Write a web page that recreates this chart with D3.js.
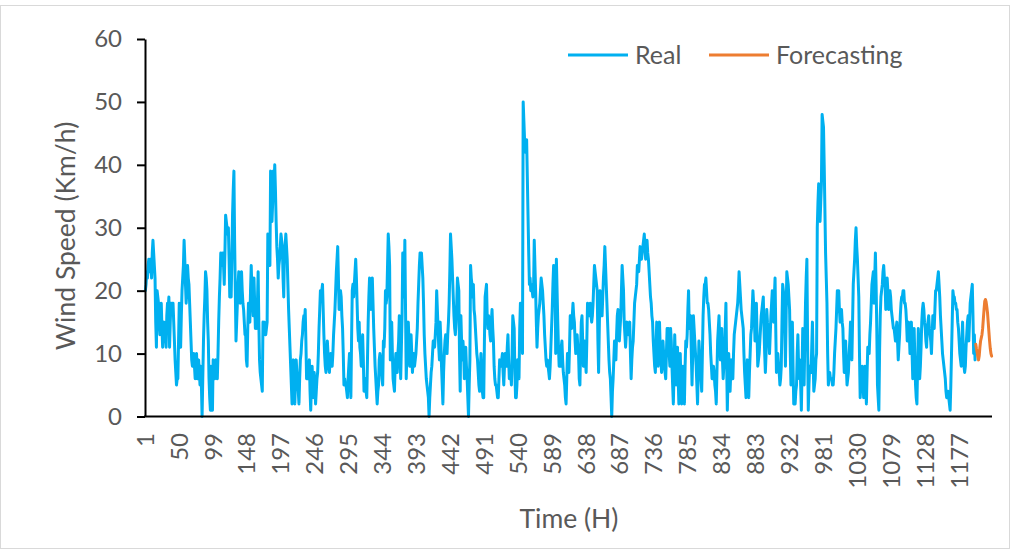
<!DOCTYPE html>
<html>
<head>
<meta charset="utf-8">
<script src="https://cdn.jsdelivr.net/npm/d3@7"></script>
<style>
  html, body { margin: 0; padding: 0; background: #ffffff; }
  svg { display: block; font-family: Lato, "Open Sans", sans-serif; }
</style>
</head>
<body>
<svg id="chart" width="1016" height="550"></svg>
<script>
// Hourly observed wind speed (km/h), hour 1 onward
const realSpeed = [
  20,21,23,22,24,25,23,25,24,22,26,28,26,24,22,15,11,20,19,18,
  15,13,16,18,14,11,13,15,14,14,11,16,18,17,19,11,15,18,17,18,
  18,15,12,9,7,5,6,6,12,18,14,11,16,20,22,24,28,25,21,18,
  20,24,22,21,18,15,12,9,8,9,10,8,6,8,10,6,7,9,7,5,
  8,5,0,6,12,16,19,23,22,20,15,12,6,3,1,8,4,1,9,7,
  6,7,9,7,6,10,15,19,22,26,25,24,26,24,21,26,32,31,30,29,
  30,25,19,21,19,25,32,36,39,28,20,12,15,18,21,23,20,18,21,23,
  20,18,17,15,13,13,9,8,14,18,15,15,20,24,20,18,16,22,18,14,
  15,14,18,23,15,9,7,6,5,4,15,14,15,13,13,14,15,29,27,29,
  24,39,35,31,34,39,37,40,36,31,27,25,22,24,25,27,29,28,27,22,
  19,26,27,29,27,25,21,17,14,11,8,5,2,6,9,5,2,6,9,7,
  6,4,2,6,9,10,12,13,15,16,15,17,12,6,7,6,8,9,4,1,
  5,8,5,3,7,5,2,4,6,7,10,14,17,20,19,20,21,17,13,10,
  8,7,9,12,10,8,7,9,10,9,8,10,13,15,17,20,23,25,27,22,
  17,18,20,19,16,14,10,5,6,5,5,4,3,6,8,10,6,3,12,20,
  21,19,21,23,25,22,18,14,12,15,11,10,8,10,13,9,4,5,6,4,
  3,9,15,19,22,20,17,20,22,18,14,11,8,6,4,2,4,5,9,10,
  9,8,6,5,12,11,14,20,18,19,24,29,27,24,9,12,15,10,6,5,
  4,8,10,9,7,10,12,16,10,6,11,16,26,22,19,28,17,6,10,14,
  15,12,8,10,13,10,7,9,10,8,9,10,12,14,18,21,24,26,25,26,
  24,22,18,13,10,8,6,5,4,3,0,3,5,7,8,10,12,11,11,13,
  15,20,17,14,11,9,15,12,8,5,2,7,10,12,13,11,10,13,15,18,
  23,29,27,25,22,19,16,14,13,15,18,22,21,20,10,4,16,12,9,12,
  10,6,9,11,8,6,3,0,5,9,24,22,21,19,21,17,16,14,12,10,
  9,7,5,4,7,10,7,4,3,3,12,19,20,21,16,14,16,15,13,12,
  15,17,14,12,8,6,5,5,4,3,3,6,9,8,8,9,10,7,5,8,
  10,9,8,11,13,9,6,8,7,5,10,16,15,14,7,3,3,5,9,7,
  6,14,18,17,18,10,50,47,44,42,43,44,38,32,26,21,22,20,21,20,
  19,20,28,24,20,15,11,14,16,17,18,20,22,21,20,18,16,13,11,9,
  8,9,8,7,6,8,11,14,17,21,24,23,24,10,25,20,15,11,8,9,
  8,11,12,9,7,6,5,3,2,6,10,8,7,11,16,15,14,16,18,16,
  15,12,10,12,13,11,10,6,5,11,15,16,12,8,10,12,9,7,12,18,
  17,16,17,18,16,15,16,18,21,24,23,22,21,20,12,7,14,20,19,18,
  16,19,22,24,27,24,21,18,15,12,9,7,6,3,0,4,6,9,12,10,
  9,13,16,17,16,12,14,16,20,24,22,20,15,13,11,13,15,14,13,14,
  15,10,6,9,11,12,15,18,19,20,21,24,23,23,25,27,26,25,26,27,
  28,29,27,25,26,28,26,25,23,21,19,18,16,15,12,10,8,7,11,15,
  12,8,12,15,11,9,7,9,12,10,8,7,6,10,14,12,14,10,8,14,
  12,8,5,2,7,13,9,5,8,11,6,2,6,10,5,2,5,8,4,2,
  8,12,11,13,17,20,14,15,16,10,5,10,16,14,12,10,8,5,2,7,
  12,10,8,6,4,10,16,19,21,21,22,20,18,18,17,15,13,10,8,6,
  7,8,7,5,4,2,7,12,14,16,12,9,11,14,9,6,8,10,14,18,
  9,1,6,10,7,4,7,9,7,6,10,13,14,15,16,17,18,20,23,21,
  19,17,16,15,14,10,7,5,3,6,9,5,3,7,10,13,14,17,20,18,
  16,12,15,18,13,8,9,10,12,14,16,17,18,19,14,10,7,10,17,15,
  14,12,10,13,16,18,20,17,15,19,22,14,7,9,10,8,7,5,6,8,
  15,21,20,19,14,8,16,23,22,21,19,17,10,5,10,15,8,2,4,2,
  4,5,10,13,8,6,9,5,1,7,14,9,5,12,18,22,25,12,1,5,
  8,8,7,11,15,9,4,5,6,9,10,30,34,37,34,31,34,37,48,47,
  46,40,33,26,22,18,10,5,6,7,6,6,6,5,5,7,10,12,14,17,
  20,19,20,17,15,16,17,15,14,10,7,10,12,8,5,6,7,10,12,15,
  12,9,15,21,23,25,28,30,27,25,22,19,10,3,5,6,8,6,3,5,
  8,5,2,7,11,10,10,13,15,18,21,22,23,18,22,26,21,14,5,3,
  1,10,16,19,20,21,23,24,22,21,17,19,22,20,17,18,20,19,17,16,
  15,14,14,13,12,14,15,12,9,11,13,16,18,19,19,20,20,18,18,17,
  15,12,13,15,13,10,12,15,10,6,10,14,9,5,3,2,8,14,10,6,
  8,11,15,17,18,17,15,14,12,11,14,15,16,14,13,12,10,13,16,15,
  14,17,20,20,21,22,23,21,19,16,14,12,10,9,8,7,6,4,3,3,
  4,3,2,1,5,10,15,20,19,19,18,18,17,17,15,14,12,10,9,8,
  12,15,11,8,7,8,11,13,15,16,12,15,18,19,20,21,16,10,13,9
];

// Next-day forecast (km/h), the 24 hours after the observed record
const forecastSpeed = [
  11.5,10.8,10.2,9.5,9,9.6,11,12,12.5,13,14,15.5,
  17,18.3,18.6,18.2,17.4,16.5,15,13.5,12,10.8,10,9.6
];

const yTicks = [0, 10, 20, 30, 40, 50, 60];
const xTickLabels = [1, 50, 99, 148, 197, 246, 295, 344, 393, 442, 491, 540, 589,
  638, 687, 736, 785, 834, 883, 932, 981, 1030, 1079, 1128, 1177];

const seriesNames = ["Real", "Forecasting"];
const seriesColors = ["#00B0F0", "#ED7D31"];

const svg = d3.select("#chart");
const textColor = "#595959";
const tickFont = 24;
const titleFont = 26.5;
const legendFont = 25;

const plot = { left: 145, right: 992, top: 39, bottom: 416.5 };
const nHours = realSpeed.length + forecastSpeed.length;

const x = d3.scaleLinear().domain([0.5, nHours + 0.5]).range([plot.left, plot.right]);
const y = d3.scaleLinear().domain([0, 60]).range([plot.bottom, plot.top]);

// chart area frame
svg.append("rect")
  .attr("x", 0.5).attr("y", 5.5)
  .attr("width", 1009).attr("height", 543)
  .attr("fill", "#ffffff").attr("stroke", "#d9d9d9").attr("stroke-width", 1);

// series lines
const line = d3.line().x(d => x(d.h)).y(d => y(d.v));
const realPts = realSpeed.map((v, i) => ({ h: i + 1, v }));
const forePts = forecastSpeed.map((v, i) => ({ h: realSpeed.length + i + 1, v }));

svg.append("path").datum(realPts)
  .attr("d", line).attr("fill", "none")
  .attr("stroke", seriesColors[0]).attr("stroke-width", 3)
  .attr("stroke-linejoin", "round").attr("stroke-linecap", "round");

svg.append("path").datum(forePts)
  .attr("d", line).attr("fill", "none")
  .attr("stroke", seriesColors[1]).attr("stroke-width", 3)
  .attr("stroke-linejoin", "round").attr("stroke-linecap", "round");

// y axis
const yAxis = d3.axisLeft(y).tickValues(yTicks).tickSize(8).tickSizeOuter(0).tickPadding(15);
const gy = svg.append("g").attr("transform", `translate(${plot.left},0)`).call(yAxis);
gy.select(".domain").attr("stroke", "#000").attr("stroke-width", 2);
gy.selectAll(".tick line").attr("stroke", "#000").attr("stroke-width", 2);
gy.selectAll(".tick text")
  .attr("fill", textColor).attr("font-size", tickFont)
  .attr("font-family", "Lato, 'Open Sans', sans-serif");

// x axis: baseline and rotated category labels
svg.append("line")
  .attr("x1", plot.left - 1).attr("x2", plot.right)
  .attr("y1", plot.bottom).attr("y2", plot.bottom)
  .attr("stroke", "#000").attr("stroke-width", 2);

svg.append("g").selectAll("text").data(xTickLabels).join("text")
  .attr("transform", d => `translate(${x(d)},${433}) rotate(-90)`)
  .attr("text-anchor", "end").attr("dy", "0.35em")
  .attr("fill", textColor).attr("font-size", tickFont)
  .text(d => d);

// axis titles
svg.append("text")
  .attr("transform", "translate(66,236) rotate(-90)")
  .attr("text-anchor", "middle").attr("dy", "0.35em")
  .attr("fill", textColor).attr("font-size", titleFont)
  .text("Wind Speed (Km/h)");

svg.append("text")
  .attr("x", 569).attr("y", 519).attr("dy", "0.35em")
  .attr("text-anchor", "middle")
  .attr("fill", textColor).attr("font-size", titleFont)
  .text("Time (H)");

// legend
const legendItems = [
  { name: seriesNames[0], color: seriesColors[0], x0: 568, tx: 635 },
  { name: seriesNames[1], color: seriesColors[1], x0: 709, tx: 776 }
];
const lg = svg.append("g");
legendItems.forEach(it => {
  lg.append("line")
    .attr("x1", it.x0).attr("x2", it.x0 + 60)
    .attr("y1", 55).attr("y2", 55)
    .attr("stroke", it.color).attr("stroke-width", 3);
  lg.append("text")
    .attr("x", it.tx).attr("y", 55).attr("dy", "0.35em")
    .attr("fill", textColor).attr("font-size", legendFont)
    .text(it.name);
});
</script>
</body>
</html>
